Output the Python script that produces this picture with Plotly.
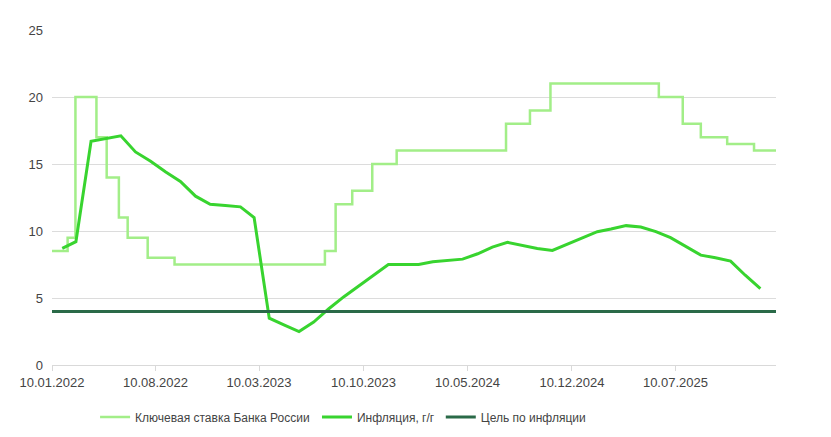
import pandas as pd
import plotly.graph_objects as go

# Ключевая ставка: даты изменений и уровни
rate_dates = ['2022-01-10', '2022-02-11', '2022-02-27', '2022-04-11', '2022-05-02',
              '2022-05-27', '2022-06-14', '2022-07-25', '2022-09-18', '2023-07-23',
              '2023-08-14', '2023-09-17', '2023-10-28', '2023-12-17', '2024-07-28',
              '2024-09-15', '2024-10-27', '2025-06-06', '2025-07-25', '2025-08-31',
              '2025-10-24', '2025-12-18', '2026-02-01']
rate_values = [8.5, 9.5, 20, 17, 14, 11, 9.5, 8, 7.5, 8.5,
               12, 13, 15, 16, 18, 19, 21, 20, 18, 17,
               16.5, 16, 16]

# Инфляция г/г, по месяцам (янв 2022 - дек 2025)
infl_months = pd.date_range('2022-01-31', '2025-12-31', freq='ME')
infl_values = [8.7, 9.2, 16.7, 16.9, 17.1, 15.9, 15.2, 14.4, 13.7, 12.6, 12.0, 11.9,
               11.8, 11.0, 3.5, 3.0, 2.5, 3.2, 4.2, 5.1, 5.9, 6.75, 7.5, 7.5,
               7.5, 7.7, 7.8, 7.9, 8.3, 8.8, 9.15, 8.9, 8.7, 8.55, 9.0, 9.5,
               9.95, 10.15, 10.4, 10.3, 9.95, 9.5, 8.85, 8.2, 8.0, 7.75, 6.7, 5.7]

# Цель по инфляции
target_dates = ['2022-01-10', '2026-02-01']
target_values = [4, 4]

tick_dates = ['2022-01-10', '2022-08-10', '2023-03-10', '2023-10-10',
              '2024-05-10', '2024-12-10', '2025-07-10']

fig = go.Figure()
fig.add_trace(go.Scatter(x=rate_dates, y=rate_values, mode='lines', line_shape='hv',
                         name='Ключевая ставка Банка России', legend='legend',
                         showlegend=True,
                         line=dict(color='#a2ee88', width=2.5)))
fig.add_trace(go.Scatter(x=infl_months, y=infl_values, mode='lines',
                         name='Инфляция, г/г', legend='legend2', showlegend=True,
                         line=dict(color='#38d42f', width=3)))
fig.add_trace(go.Scatter(x=target_dates, y=target_values, mode='lines',
                         name='Цель по инфляции', legend='legend3', showlegend=True,
                         line=dict(color='#2a6a48', width=3)))

# одна легенда на каждый ряд, чтобы задать отступы как на образце
leg = dict(orientation='h', xanchor='left', y=-0.155, yanchor='middle',
           font=dict(size=12, color='#444'), itemwidth=30, bgcolor='rgba(0,0,0,0)')

fig.update_layout(
    width=831, height=437,
    showlegend=True,
    margin=dict(l=44, r=63, t=22, b=80),
    plot_bgcolor='white', paper_bgcolor='white',
    font=dict(family='Liberation Sans, Arial, sans-serif', size=13, color='#444'),
    legend=dict(leg, x=0.0595),
    legend2=dict(leg, x=0.366),
    legend3=dict(leg, x=0.537),
)
fig.update_xaxes(range=['2022-01-10', '2026-02-01'], tickvals=tick_dates,
                 tickformat='%d.%m.%Y', showgrid=False, showline=True,
                 linecolor='#d9d9d9', ticks='outside', tickcolor='#d9d9d9',
                 ticklen=5, tickfont=dict(size=13, color='#444'))
fig.update_yaxes(range=[0, 25], dtick=5, showgrid=True, gridcolor='#dcdcdc',
                 zeroline=False, ticklabelstandoff=8,
                 tickfont=dict(size=13, color='#444'))

fig.write_html("out.html")
